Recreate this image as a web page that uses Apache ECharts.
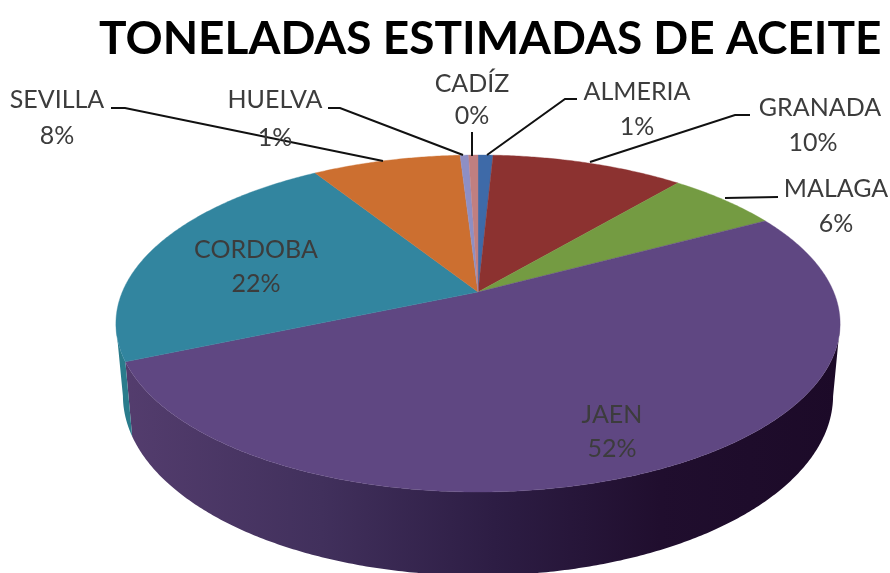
<!DOCTYPE html>
<html>
<head>
<meta charset="utf-8">
<style>html,body{margin:0;padding:0;background:#fff}#c{width:890px;height:573px}</style>
<script src="https://cdn.jsdelivr.net/npm/echarts@6/dist/echarts.min.js"></script>
</head>
<body>
<div id="c"></div>
<script>
var titleText = 'TONELADAS ESTIMADAS DE ACEITE';
var provinces = ['ALMERIA', 'GRANADA', 'MALAGA', 'JAEN', 'CORDOBA', 'SEVILLA', 'HUELVA', 'CADÍZ'];
var percentLabels = ['1%', '10%', '6%', '52%', '22%', '8%', '1%', '0%'];
var shares = [0.8, 10.3, 6, 51.4, 22.6, 7.95, 0.45, 0.5];

var topColors = ['#3e6aa8', '#8c3230', '#749b42', '#5f4782', '#32859f', '#cc6f30', '#8e8fc4', '#c07f80'];
var sideColors = ['#2c4c78', '#642422', '#536e2f', null, '#2a7c8c', '#924f22', '#65668c', '#895b5b'];
var sideGradient = [[0, '#543d6e'], [0.28, '#41305c'], [0.52, '#2d1d44'], [0.75, '#200e2e'], [1, '#1c0a28']];

// Perspective of the disc and its lower rim
var disc = { cx: 478, cy: 292, r: 355.7, a: 162.6, p: 0.187, ellCy: 323, ellRx: 362, ellRy: 168.5 };
var rim = { cy: 395, rx: 355, ry: 180 };

// Label centres [nameX, nameY, pctX, pctY] and leader polylines, in page pixels
var labelPos = [
  [637, 92, 637, 127], [820, 108, 813, 143], [836, 189, 836, 224], [612, 415, 612, 449],
  [256, 250, 256, 284], [57, 100, 57, 136], [275, 100, 275, 138], [472, 84, 472, 116]
];
var leaders = [
  [[577, 99], [565, 99], [487, 155]], [[750, 115], [735, 115], [590, 162]], [[778, 197], [725, 198]], null,
  null, [[111, 108], [125, 108], [383, 161]], [[328, 108], [340, 108], [463, 155]], [[472, 132], [472, 156]]
];

var fontFamily = 'Lato, "Open Sans", sans-serif';
var total = shares.reduce(function (s, v) { return s + v; }, 0);

function topPoint(deg) {
  var t = deg * Math.PI / 180, u = Math.sin(t), v = -Math.cos(t), s = 1 / (1 - disc.p * v);
  return [disc.cx + disc.r * u * s, disc.cy + disc.a * v * s];
}
function lowerPoint(p) {
  var sx = (p[0] - disc.cx) / disc.ellRx, sy = (p[1] - disc.ellCy) / disc.ellRy;
  return [disc.cx + rim.rx * sx, rim.cy + rim.ry * sy];
}
function sliceRange(i) {
  var before = 0;
  for (var k = 0; k < i; k++) before += shares[k];
  return [before / total * 360, (before + shares[i]) / total * 360];
}
function arcPoints(r) {
  var pts = [], n = Math.max(2, Math.ceil((r[1] - r[0]) * 2));
  for (var k = 0; k <= n; k++) pts.push(topPoint(r[0] + (r[1] - r[0]) * k / n));
  return pts;
}

function renderSide(params) {
  var i = params.dataIndex;
  var upper = arcPoints(sliceRange(i)).filter(function (p) { return p[1] >= disc.ellCy; });
  if (upper.length < 2) return { type: 'group', children: [] };
  var lower = upper.map(lowerPoint).reverse();
  var fill = sideColors[i] || {
    type: 'linear', x: 120, y: 0, x2: 840, y2: 0, global: true,
    colorStops: sideGradient.map(function (s) { return { offset: s[0], color: s[1] }; })
  };
  return { type: 'polygon', shape: { points: upper.concat(lower) }, style: { fill: fill } };
}
function renderTop(params) {
  var i = params.dataIndex;
  var pts = [[disc.cx, disc.cy]].concat(arcPoints(sliceRange(i)));
  return { type: 'polygon', shape: { points: pts }, style: { fill: topColors[i], stroke: topColors[i], lineWidth: 0.4 } };
}
function renderLabel(params) {
  var i = params.dataIndex, pos = labelPos[i], kids = [];
  if (leaders[i]) kids.push({ type: 'polyline', shape: { points: leaders[i] }, style: { stroke: '#111', lineWidth: 2, fill: 'none' } });
  [[provinces[i], pos[0], pos[1]], [percentLabels[i], pos[2], pos[3]]].forEach(function (t) {
    kids.push({ type: 'text', x: t[1], y: t[2], style: {
      text: t[0], fill: '#3c3c3c', font: '25px ' + fontFamily, align: 'center', verticalAlign: 'middle'
    } });
  });
  return { type: 'group', children: kids };
}

var chart = echarts.init(document.getElementById('c'), null, { renderer: 'canvas' });
chart.setOption({
  animation: false,
  backgroundColor: '#fff',
  title: {
    text: titleText, left: 94, top: 11,
    textStyle: { fontFamily: fontFamily, fontWeight: 'bold', fontSize: 46, color: '#000' }
  },
  series: [
    { type: 'custom', coordinateSystem: 'none', silent: true, z: 1, renderItem: renderSide, data: shares },
    { type: 'custom', coordinateSystem: 'none', silent: true, z: 2, renderItem: renderTop, data: shares },
    { type: 'custom', coordinateSystem: 'none', silent: true, z: 3, renderItem: renderLabel, data: provinces.map(function (n, i) { return { name: n, value: shares[i] }; }) }
  ]
});
</script>
</body>
</html>
